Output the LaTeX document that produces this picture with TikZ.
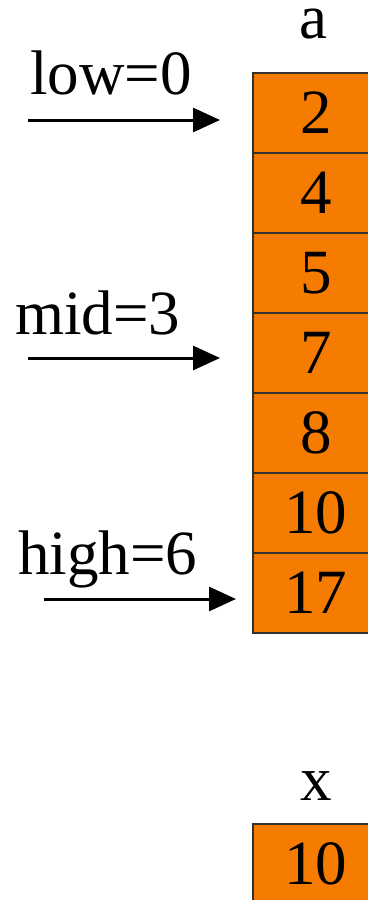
\documentclass[tikz,border=0pt]{standalone}
\usepackage{fontspec}
\setmainfont{Liberation Serif}
\usetikzlibrary{arrows.meta}
\definecolor{cellorange}{RGB}{245,124,0}

\begin{document}
\begin{tikzpicture}[x=1pt, y=-1pt,
	every node/.style={font=\fontsize{63}{70}\selectfont, inner sep=0pt},
	cellbox/.style={draw=black!80, line width=1.5pt, fill=cellorange, minimum width=126pt, minimum height=80pt, anchor=north west},
	>={Triangle[length=27pt, width=24pt]}]
	\useasboundingbox (0,0) rectangle (367,900);
	% array a
	\node[anchor=base] (alabel) at (313,38) {a};
	\foreach \v [count=\i from 0] in {2,4,5,7,8,10,17}
		\node[cellbox] (c\i) at (252,72+80*\i) {\v};
	% pointers
	\node[anchor=base west] (low) at (30,94) {low=0};
	\node[anchor=base west] (mid) at (15,334) {mid=3};
	\node[anchor=base west] (high) at (18,574) {high=6};
	\coordinate (lowtail) at (28,120);
	\coordinate (midtail) at (28,358);
	\coordinate (hightail) at (44,599);
	\draw[->, line width=3pt, shorten >=32pt] (lowtail) -- (lowtail -| c0.west);
	\draw[->, line width=3pt, shorten >=32pt] (midtail) -- (midtail -| c3.west);
	\draw[->, line width=3pt, shorten >=16pt] (hightail) -- (hightail -| c6.west);
	% key x
	\node[anchor=base] (xlabel) at (316,800) {x};
	\node[cellbox] (xcell) at (252,823) {10};
\end{tikzpicture}
\end{document}
